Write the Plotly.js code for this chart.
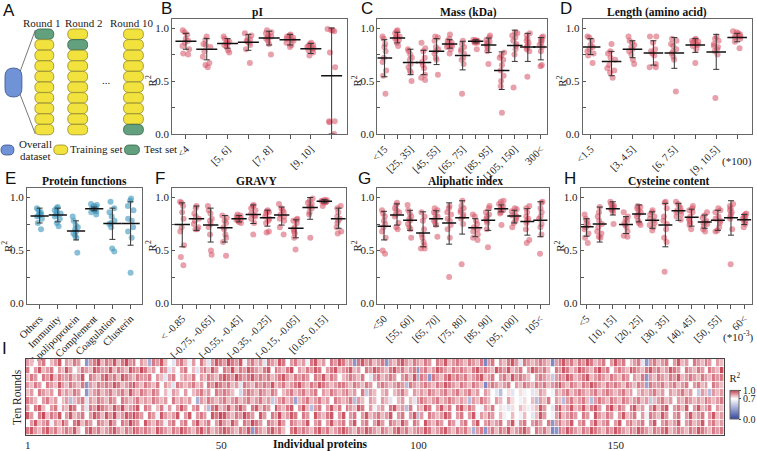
<!DOCTYPE html>
<html><head><meta charset="utf-8">
<script src="https://cdn.plot.ly/plotly-3.0.1.min.js"></script>
<style>html,body{margin:0;padding:0;background:#fff}#chart{width:757px;height:451px}</style>
</head><body><div id="chart"></div>
<script>
// ---------------- DATA ----------------
const pI_cats = ['<4','[4, 5]','[5, 6]','[6, 7]','[7, 8]','[8, 9]','[9, 10]','10<'];
const pI_points = [[0.98,0.96,0.94,0.90,0.88,0.86,0.83,0.80,0.76,0.75],[0.92,0.89,0.85,0.84,0.82,0.78,0.73,0.67,0.65,0.63],[0.92,0.90,0.88,0.87,0.86,0.85,0.84,0.82,0.79,0.77],[0.95,0.93,0.91,0.89,0.88,0.87,0.86,0.84,0.80,0.67],[0.98,0.96,0.95,0.93,0.92,0.91,0.90,0.88,0.85,0.75],[0.94,0.93,0.92,0.91,0.90,0.89,0.88,0.86,0.84,0.82],[0.86,0.85,0.84,0.83,0.82,0.81,0.80,0.79,0.77,0.74],[0.99,0.98,0.98,0.97,0.77,0.63,0.12,0.11,0.12,0.0]];
const pI_mean = [0.875,0.80,0.855,0.865,0.905,0.89,0.805,0.55];
const pI_hi = [0.95,0.90,0.90,0.94,0.97,0.94,0.855,1.0];
const pI_lo = [0.80,0.70,0.81,0.79,0.84,0.84,0.76,0.0];

const mass_cats = ['<15','[15, 25]','[25, 35]','[35, 45]','[45, 55]','[55, 65]','[65, 75]','[75, 85]','[85, 95]','[95, 105]','[105, 150]','[150, 300]','300<'];
const mass_points = [[0.92,0.90,0.85,0.82,0.78,0.72,0.68,0.60,0.55,0.38],[0.98,0.97,0.95,0.93,0.92,0.91,0.90,0.89,0.86,0.83],[0.80,0.78,0.75,0.72,0.70,0.66,0.63,0.60,0.58,0.50],[0.86,0.81,0.78,0.72,0.68,0.65,0.62,0.56,0.53,0.51],[0.92,0.91,0.88,0.82,0.80,0.78,0.76,0.72,0.70,0.56],[0.94,0.90,0.88,0.86,0.85,0.84,0.83,0.82,0.80,0.76],[0.88,0.85,0.82,0.80,0.78,0.76,0.72,0.70,0.66,0.38],[0.89,0.885,0.88,0.88,0.875,0.87,0.87,0.86,0.86,0.80],[0.93,0.91,0.89,0.87,0.86,0.85,0.83,0.81,0.78,0.66],[0.77,0.74,0.72,0.70,0.65,0.60,0.55,0.50,0.45,0.20],[0.96,0.95,0.93,0.91,0.88,0.85,0.83,0.80,0.75,0.44],[0.95,0.93,0.90,0.88,0.86,0.84,0.82,0.80,0.78,0.54],[0.92,0.91,0.89,0.88,0.86,0.84,0.82,0.78,0.65,0.64]];
const mass_mean = [0.717,0.905,0.675,0.675,0.78,0.85,0.74,0.875,0.84,0.60,0.835,0.82,0.82];
const mass_hi = [0.89,0.96,0.80,0.79,0.90,0.89,0.875,0.89,0.905,0.775,0.98,0.95,0.91];
const mass_lo = [0.54,0.86,0.56,0.56,0.655,0.81,0.605,0.86,0.77,0.42,0.685,0.685,0.70];

const len_cats = ['<1.5','[1.5, 3]','[3, 4.5]','[4.5, 6]','[6, 7.5]','[7.5, 9]','[9, 10.5]','10.5<'];
const len_points = [[0.92,0.91,0.88,0.84,0.82,0.80,0.78,0.76,0.74,0.67],[0.85,0.78,0.76,0.72,0.70,0.65,0.62,0.60,0.58,0.53],[0.92,0.88,0.86,0.84,0.82,0.80,0.78,0.75,0.70,0.66],[0.92,0.92,0.86,0.80,0.78,0.76,0.74,0.66,0.63,0.63],[0.90,0.88,0.85,0.83,0.80,0.78,0.76,0.73,0.70,0.40],[0.90,0.89,0.88,0.87,0.86,0.85,0.84,0.83,0.80,0.67],[0.92,0.90,0.88,0.85,0.83,0.82,0.80,0.78,0.75,0.34],[0.97,0.96,0.95,0.94,0.93,0.92,0.91,0.90,0.87,0.81]];
const len_mean = [0.82,0.685,0.80,0.765,0.765,0.84,0.775,0.91];
const len_hi = [0.90,0.78,0.88,0.88,0.91,0.90,0.94,0.95];
const len_lo = [0.75,0.55,0.72,0.65,0.62,0.77,0.61,0.87];

const func_cats = ['Others','Immunity','Apolipoprotein','Complement','Coagulation','Clusterin'];
const func_points = [[0.90,0.88,0.86,0.85,0.84,0.83,0.82,0.80,0.76,0.70],[0.91,0.90,0.88,0.86,0.85,0.84,0.82,0.80,0.76,0.73],[0.82,0.78,0.74,0.72,0.70,0.68,0.66,0.64,0.62,0.48],[0.94,0.93,0.92,0.91,0.90,0.89,0.88,0.87,0.86,0.84],[0.96,0.90,0.86,0.82,0.78,0.76,0.75,0.72,0.52,0.49],[0.99,0.97,0.92,0.88,0.80,0.78,0.72,0.68,0.62,0.29]];
const func_mean = [0.825,0.835,0.685,0.895,0.755,0.755];
const func_hi = [0.90,0.90,0.78,0.91,0.90,0.96];
const func_lo = [0.76,0.77,0.60,0.875,0.605,0.55];

const gravy_cats = ['< -0.85','[-0.85, -0.75]','[-0.75, -0.65]','[-0.65, -0.55]','[-0.55, -0.45]','[-0.45, -0.35]','[-0.35, -0.25]','[-0.25, -0.15]','[-0.15, -0.05]','[-0.05, 0.05]','[0.05, 0.15]','0.15<'];
const gravy_points = [[0.96,0.95,0.92,0.86,0.80,0.72,0.68,0.55,0.44,0.36],[0.92,0.90,0.85,0.82,0.80,0.78,0.75,0.72,0.70,0.70],[0.92,0.88,0.85,0.80,0.78,0.75,0.72,0.65,0.50,0.46],[0.83,0.81,0.78,0.76,0.72,0.70,0.65,0.62,0.58,0.45],[0.84,0.83,0.82,0.81,0.80,0.80,0.79,0.78,0.77,0.76],[0.93,0.92,0.90,0.88,0.85,0.83,0.82,0.80,0.76,0.65],[0.88,0.87,0.86,0.85,0.82,0.80,0.78,0.76,0.68,0.67],[0.94,0.90,0.88,0.86,0.84,0.82,0.80,0.78,0.72,0.65],[0.80,0.79,0.78,0.76,0.72,0.70,0.68,0.66,0.62,0.51],[0.99,0.97,0.95,0.94,0.92,0.91,0.90,0.86,0.84,0.62],[0.98,0.975,0.97,0.97,0.965,0.96,0.96,0.955,0.95,0.92],[0.92,0.90,0.86,0.82,0.80,0.78,0.76,0.72,0.68,0.66]];
const gravy_mean = [0.745,0.80,0.74,0.715,0.80,0.84,0.81,0.835,0.71,0.905,0.965,0.80];
const gravy_hi = [0.95,0.92,0.90,0.83,0.83,0.93,0.88,0.91,0.79,1.0,0.98,0.90];
const gravy_lo = [0.535,0.69,0.58,0.58,0.77,0.755,0.73,0.74,0.62,0.795,0.95,0.71];

const ali_cats = ['<50','[50, 55]','[55, 60]','[60, 65]','[65, 70]','[70, 75]','[75, 80]','[80, 85]','[85, 90]','[90, 95]','[95, 100]','[100, 105]','105<'];
const ali_points = [[0.88,0.85,0.82,0.78,0.75,0.72,0.68,0.62,0.50,0.47],[0.95,0.93,0.90,0.88,0.86,0.84,0.82,0.76,0.72,0.70],[0.93,0.88,0.85,0.82,0.80,0.78,0.75,0.72,0.70,0.62],[0.86,0.82,0.78,0.70,0.65,0.62,0.58,0.55,0.52,0.52],[0.90,0.88,0.86,0.84,0.82,0.80,0.78,0.76,0.74,0.63],[0.92,0.90,0.86,0.84,0.80,0.78,0.74,0.70,0.62,0.25],[0.97,0.92,0.90,0.88,0.86,0.84,0.82,0.80,0.75,0.37],[0.84,0.82,0.78,0.75,0.72,0.70,0.68,0.65,0.62,0.60],[0.92,0.90,0.86,0.84,0.82,0.80,0.78,0.76,0.70,0.53],[0.97,0.96,0.94,0.92,0.90,0.89,0.88,0.86,0.85,0.74],[0.90,0.89,0.87,0.85,0.83,0.82,0.80,0.78,0.76,0.72],[0.92,0.90,0.86,0.82,0.80,0.78,0.76,0.70,0.60,0.57],[0.96,0.95,0.90,0.86,0.82,0.80,0.75,0.72,0.65,0.47]];
const ali_mean = [0.73,0.835,0.785,0.665,0.80,0.76,0.81,0.715,0.785,0.895,0.825,0.775,0.785];
const ali_hi = [0.87,0.94,0.88,0.865,0.875,0.95,0.97,0.80,0.88,0.93,0.88,0.895,0.96];
const ali_lo = [0.60,0.74,0.69,0.535,0.73,0.56,0.655,0.63,0.69,0.865,0.76,0.645,0.63];

const cys_cats = ['<5','[5, 10]','[10, 15]','[15, 20]','[20, 25]','[25, 30]','[30, 35]','[35, 40]','[40, 45]','[45, 50]','[50, 55]','[55, 60]','60<'];
const cys_points = [[0.84,0.80,0.78,0.76,0.74,0.72,0.70,0.66,0.62,0.57],[0.91,0.86,0.82,0.78,0.75,0.72,0.68,0.66,0.63,0.62],[0.96,0.94,0.93,0.92,0.91,0.90,0.89,0.88,0.86,0.75],[0.86,0.82,0.80,0.78,0.76,0.74,0.72,0.68,0.64,0.63],[0.92,0.91,0.90,0.88,0.86,0.84,0.82,0.78,0.76,0.74],[0.88,0.86,0.84,0.82,0.80,0.78,0.76,0.74,0.72,0.69],[0.96,0.95,0.90,0.82,0.78,0.75,0.70,0.62,0.58,0.30],[0.96,0.94,0.92,0.90,0.88,0.87,0.86,0.84,0.82,0.79],[0.92,0.90,0.88,0.86,0.82,0.80,0.78,0.76,0.74,0.70],[0.86,0.83,0.81,0.78,0.77,0.76,0.75,0.73,0.70,0.68],[0.90,0.88,0.86,0.82,0.80,0.78,0.76,0.72,0.69,0.68],[0.94,0.92,0.90,0.88,0.86,0.84,0.82,0.80,0.70,0.37],[0.85,0.84,0.83,0.82,0.81,0.80,0.78,0.77,0.75,0.72]];
const cys_mean = [0.725,0.75,0.895,0.745,0.845,0.785,0.74,0.875,0.815,0.77,0.785,0.81,0.79];
const cys_hi = [0.80,0.91,0.96,0.82,0.93,0.865,0.945,0.945,0.89,0.835,0.88,0.97,0.84];
const cys_lo = [0.635,0.58,0.835,0.66,0.77,0.71,0.535,0.785,0.73,0.71,0.69,0.645,0.745];

// Heatmap: R2 of each protein (columns) in each of the ten rounds (rows, top to bottom)
const heatRound1 = [
.85,.8,.7,.85,.9,.7,.8,.85,.95,.7,
.85,.8,.9,.85,.7,.3,.85,.9,.97,.8,
.9,.85,.95,.8,.9,.97,.85,.9,.7,.85,
.8,.4,.9,.85,.95,.8,.7,.6,.85,.9,
.8,.65,.85,.7,.9,.8,.6,.85,.95,.9,
.85,.97,.9,.85,.95,.65,.85,.9,.8,.85,
.6,.9,.85,.8,.95,.9,.7,.85,.9,.8,
.85,.65,.9,.95,.8,.85,.7,.9,.85,.95,
.9,.8,.85,.3,.9,.95,.85,.9,.8,.85,
.9,.3,.85,.8,.9,.95,.85,.8,.9,.85,
.8,.9,.85,.7,.9,.85,.95,.8,.85,.9,
.85,.8,.9,.85,.8,.9,.25,.85,.9,.7,
.85,.8,.9,.95,.85,.6,.9,.85,.8,.85,
.9,.85,.8,.25,.85,.9,.95,.85,.9,.8,
.9,.85,.95,.9,.8,.85,.9,.7,.85,.95,
.85,.9,.7,.8,.85,.9,.6,.3,.85,.9,
.8,.85,.9,.7,.85,.95,.8,.85,.7,.9,
.85,.8,.9,.85,.7,.85,.8];
const heatRound2 = [
.9,.7,.85,.95,.8,.85,.9,.7,.85,.8,
.95,.85,.7,.8,.9,.85,.8,.95,.9,.85,
.85,.95,.8,.9,.85,.8,.95,.9,.85,.97,
.9,.8,.85,.7,.9,.85,.6,.8,.7,.85,
.9,.7,.8,.6,.85,.9,.8,.95,.85,.7,
.9,.85,.97,.8,.9,.85,.95,.9,.85,.8,
.9,.95,.7,.9,.85,.8,.9,.97,.7,.85,
.8,.9,.85,.95,.9,.7,.85,.9,.95,.8,
.85,.9,.95,.8,.85,.7,.9,.85,.95,.9,
.85,.8,.9,.95,.85,.9,.8,.85,.9,.3,
.85,.9,.8,.85,.95,.9,.85,.8,.9,.85,
.9,.85,.8,.9,.95,.85,.9,.85,.8,.95,
.9,.85,.95,.8,.85,.9,.7,.85,.95,.9,
.85,.9,.8,.7,.9,.85,.95,.9,.8,.85,
.95,.9,.85,.8,.9,.97,.85,.9,.7,.85,
.9,.85,.8,.95,.9,.85,.8,.9,.95,.85,
.9,.8,.85,.95,.9,.85,.7,.9,.85,.8,
.9,.85,.7,.9,.85,.8,.97];
const heatRound3 = [
.8,.9,.85,.7,.9,.85,.95,.8,.9,.85,
.85,.9,.8,.85,.95,.7,.9,.85,.8,.9,
.95,.85,.9,.8,.95,.9,.85,.8,.9,.85,
.85,.9,.7,.85,.8,.6,.85,.9,.7,.8,
.85,.8,.9,.7,.85,.8,.9,.85,.8,.9,
.95,.9,.85,.97,.9,.85,.9,.95,.85,.9,
.85,.9,.8,.85,.9,.95,.85,.8,.9,.85,
.9,.85,.7,.9,.85,.95,.8,.9,.85,.7,
.8,.85,.9,.85,.8,.9,.7,.6,.85,.9,
.8,.85,.9,.85,.7,.85,.9,.8,.95,.4,
.9,.85,.3,.9,.85,.8,.9,.95,.85,.9,
.85,.9,.8,.85,.9,.95,.8,.85,.9,.7,
.85,.9,.8,.95,.85,.9,.85,.8,.7,.85,
.9,.85,.8,.5,.85,.9,.85,.95,.9,.8,
.85,.9,.95,.8,.85,.9,.85,.8,.9,.85,
.8,.9,.85,.7,.85,.8,.9,.3,.85,.8,
.9,.85,.8,.9,.85,.95,.8,.85,.9,.85,
.8,.9,.85,.8,.9,.85,.9];
const heatRound4 = [
.85,.8,.9,.85,.7,.9,.85,.8,.95,.85,
.8,.9,.85,.8,.9,.3,.85,.8,.9,.85,
.9,.85,.95,.9,.8,.85,.9,.95,.85,.8,
.9,.85,.8,.9,.7,.85,.8,.6,.9,.85,
.8,.85,.9,.8,.85,.7,.9,.85,.95,.9,
.85,.9,.8,.85,.6,.9,.85,.8,.9,.85,
.9,.85,.95,.8,.85,.9,.8,.85,.9,.95,
.85,.8,.9,.85,.95,.9,.85,.8,.85,.9,
.9,.85,.8,.9,.85,.8,.9,.85,.7,.85,
.9,.85,.8,.85,.9,.85,.45,.9,.85,.8,
.85,.9,.85,.8,.9,.85,.95,.9,.85,.8,
.9,.85,.8,.9,.85,.8,.25,.85,.9,.85,
.8,.85,.9,.7,.85,.8,.9,.85,.8,.9,
.85,.9,.8,.85,.9,.95,.85,.8,.9,.85,
.8,.9,.85,.95,.9,.85,.8,.9,.85,.9,
.85,.8,.9,.85,.8,.9,.85,.35,.9,.85,
.85,.9,.8,.85,.9,.8,.85,.9,.7,.85,
.9,.8,.85,.7,.9,.85,.8];
const heatRound5 = [
.8,.85,.7,.9,.85,.8,.85,.7,.9,.8,
.85,.8,.9,.85,.7,.3,.8,.85,.9,.8,
.85,.9,.8,.85,.9,.8,.95,.85,.8,.9,
.85,.8,.9,.85,.7,.8,.65,.85,.8,.7,
.85,.7,.8,.85,.9,.8,.85,.7,.9,.85,
.9,.85,.8,.7,.55,.85,.9,.85,.8,.9,
.85,.8,.9,.85,.7,.8,.85,.9,.8,.85,
.9,.8,.85,.9,.7,.85,.8,.9,.85,.8,
.85,.9,.8,.85,.7,.9,.5,.85,.8,.7,
.8,.85,.7,.8,.85,.9,.8,.7,.85,.8,
.85,.8,.9,.85,.8,.85,.9,.8,.85,.9,
.8,.85,.9,.8,.85,.7,.85,.8,.7,.6,
.45,.7,.75,.6,.7,.75,.65,.7,.6,.75,
.85,.8,.7,.65,.85,.8,.85,.9,.8,.85,
.9,.85,.8,.85,.9,.8,.85,.9,.85,.8,
.85,.9,.8,.85,.7,.8,.85,.8,.85,.9,
.8,.85,.7,.85,.8,.85,.9,.8,.85,.7,
.5,.85,.8,.45,.85,.8,.85];
const heatRound6 = [
.9,.85,.8,.7,.85,.9,.8,.85,.7,.8,
.85,.45,.8,.85,.9,.6,.85,.8,.9,.85,
.8,.9,.85,.7,.9,.85,.8,.85,.9,.8,
.85,.8,.9,.85,.8,.85,.7,.9,.8,.85,
.8,.85,.7,.4,.85,.8,.9,.85,.8,.85,
.9,.8,.85,.9,.8,.85,.9,.8,.85,.9,
.8,.85,.5,.8,.85,.9,.8,.85,.35,.8,
.85,.9,.8,.85,.9,.8,.85,.7,.9,.85,
.8,.85,.9,.45,.85,.8,.7,.85,.8,.7,
.85,.8,.6,.7,.8,.85,.7,.8,.6,.85,
.9,.85,.8,.85,.9,.8,.85,.9,.85,.8,
.85,.8,.45,.85,.8,.9,.85,.8,.7,.85,
.8,.7,.85,.75,.7,.65,.75,.7,.8,.45,
.85,.8,.9,.7,.85,.8,.45,.85,.9,.8,
.85,.9,.8,.45,.85,.9,.85,.8,.9,.85,
.8,.9,.85,.8,.85,.9,.8,.85,.5,.8,
.85,.9,.8,.85,.7,.85,.8,.9,.85,.8,
.85,.8,.9,.85,.8,.85,.9];
const heatRound7 = [
.85,.7,.9,.95,.8,.7,.85,.9,.65,.85,
.8,.95,.9,.7,.85,.6,.9,.85,.97,.9,
.85,.8,.95,.85,.97,.8,.85,.9,.95,.7,
.9,.85,.7,.8,.9,.65,.85,.7,.85,.95,
.85,.7,.85,.9,.7,.8,.45,.9,.95,.8,
.85,.95,.8,.9,.95,.85,.7,.9,.95,.8,
.9,.85,.7,.95,.85,.8,.9,.95,.7,.85,
.95,.8,.45,.85,.9,.7,.85,.95,.8,.9,
.7,.9,.85,.8,.95,.9,.7,.85,.65,.8,
.85,.7,.9,.95,.8,.85,.45,.9,.7,.85,
.8,.95,.9,.7,.85,.95,.8,.9,.7,.9,
.95,.8,.9,.85,.7,.65,.85,.8,.9,.7,
.75,.65,.6,.75,.7,.8,.75,.65,.75,.8,
.95,.85,.7,.6,.9,.95,.8,.85,.95,.8,
.85,.95,.8,.9,.95,.85,.7,.9,.97,.8,
.9,.85,.7,.9,.95,.8,.85,.7,.85,.95,
.8,.9,.95,.7,.85,.9,.8,.95,.7,.85,
.95,.8,.85,.9,.7,.85,.8];
const heatRound8 = [
.95,.85,.7,.9,.97,.8,.9,.85,.95,.7,
.85,.95,.8,.85,.9,.7,.85,.95,.9,.8,
.95,.85,.97,.8,.85,.95,.9,.97,.9,.85,
.7,.9,.85,.65,.95,.85,.8,.85,.95,.7,
.85,.95,.7,.85,.9,.85,.7,.95,.9,.97,
.95,.85,.8,.9,.85,.97,.9,.85,.7,.95,
.85,.7,.9,.85,.97,.8,.85,.95,.9,.7,
.9,.85,.7,.95,.85,.8,.9,.95,.7,.85,
.95,.7,.85,.9,.7,.85,.95,.8,.85,.9,
.8,.85,.95,.7,.85,.9,.7,.85,.95,.45,
.85,.7,.9,.85,.8,.85,.95,.9,.7,.85,
.9,.7,.85,.95,.65,.85,.8,.9,.85,.7,
.8,.65,.7,.8,.7,.65,.8,.7,.6,.8,
.95,.85,.7,.65,.85,.95,.8,.85,.9,.85,
.7,.9,.85,.7,.95,.85,.8,.9,.85,.7,
.85,.95,.8,.85,.9,.7,.85,.65,.9,.85,
.8,.95,.85,.7,.85,.9,.7,.85,.95,.8,
.85,.9,.7,.85,.95,.8,.85];
const heatRound9 = [
.7,.85,.95,.8,.85,.9,.65,.85,.8,.95,
.85,.7,.9,.95,.8,.9,.85,.7,.9,.85,
.8,.95,.85,.7,.9,.85,.97,.9,.85,.7,
.95,.85,.8,.9,.85,.65,.85,.9,.7,.85,
.9,.7,.85,.95,.8,.85,.9,.7,.85,.95,
.85,.8,.95,.85,.7,.9,.85,.97,.9,.85,
.7,.9,.85,.8,.95,.85,.7,.9,.85,.8,
.85,.95,.7,.85,.9,.7,.85,.95,.8,.85,
.9,.7,.85,.95,.7,.85,.9,.7,.85,.95,
.85,.7,.9,.85,.8,.95,.85,.7,.9,.85,
.7,.95,.85,.8,.9,.85,.7,.9,.85,.65,
.85,.9,.7,.85,.95,.7,.85,.9,.8,.85,
.9,.7,.85,.95,.65,.85,.9,.7,.85,.9,
.85,.7,.9,.3,.85,.9,.8,.85,.95,.7,
.85,.9,.7,.85,.95,.8,.85,.9,.7,.85,
.95,.7,.85,.9,.8,.85,.9,.7,.85,.95,
.7,.85,.9,.8,.85,.95,.7,.85,.9,.8,
.85,.95,.7,.85,.9,.8,.85];
const heatRound10 = [
.9,.95,.85,.8,.9,.95,.85,.9,.8,.85,
.9,.85,.95,.8,.7,.9,.95,.85,.9,.8,
.85,.9,.95,.85,.8,.9,.85,.95,.9,.85,
.9,.85,.8,.95,.9,.85,.8,.9,.85,.95,
.9,.85,.8,.9,.95,.85,.9,.8,.85,.9,
.95,.9,.85,.8,.9,.85,.95,.3,.9,.85,
.8,.9,.95,.85,.9,.8,.7,.9,.95,.85,
.9,.85,.8,.9,.95,.85,.9,.8,.85,.9,
.95,.9,.85,.8,.9,.85,.95,.9,.85,.8,
.9,.85,.8,.9,.95,.85,.9,.8,.85,.9,
.85,.95,.9,.8,.85,.9,.95,.85,.8,.9,
.85,.9,.8,.4,.85,.9,.3,.85,.9,.8,
.9,.85,.95,.8,.85,.9,.95,.85,.7,.9,
.85,.9,.8,.25,.3,.9,.85,.95,.9,.85,
.8,.9,.85,.95,.9,.85,.8,.9,.85,.95,
.9,.85,.8,.9,.85,.95,.9,.85,.8,.9,
.85,.9,.95,.8,.85,.9,.85,.8,.9,.85,
.95,.9,.85,.8,.9,.85,.9];
const heatTicks = [1, 50, 100, 150];

// ---------------- LAYOUT HELPERS ----------------
const W = 757, H = 451;
const SERIF = 'Liberation Serif, Times New Roman, serif';
const SANS = 'Liberation Sans, Arial, sans-serif';
const PX = x => x / W, PY = y => 1 - y / H;
const RED = 'rgba(214,82,100,0.55)';
const BLUE = 'rgba(60,150,188,0.6)';

const traces = [];
const layout = {
  width: W, height: H, margin: {l: 0, r: 0, t: 0, b: 0},
  paper_bgcolor: '#fff', plot_bgcolor: '#fff', showlegend: false,
  font: {family: SERIF, size: 11, color: '#222'},
  annotations: [], shapes: []
};

function panel(n, cats, pts, mean, hi, lo, color, everyOther, xr, xpx, ypx, mSize) {
  const xa = n === 1 ? 'x' : 'x' + n, ya = n === 1 ? 'y' : 'y' + n;
  const idx = cats.map((_, i) => i);
  traces.push({
    type: 'box', xaxis: xa, yaxis: ya,
    x: idx.flatMap(i => pts[i].map(() => i)), y: pts.flat(),
    boxpoints: 'all', jitter: 0.85, pointpos: 0, whiskerwidth: 0,
    fillcolor: 'rgba(0,0,0,0)', line: {color: 'rgba(0,0,0,0)', width: 0},
    marker: {color: color, size: 6, line: {width: 0}}, hoverinfo: 'y'
  });
  traces.push({
    type: 'scatter', mode: 'markers', xaxis: xa, yaxis: ya, x: idx, y: mean,
    marker: {symbol: 'line-ew', size: mSize, color: '#111', line: {color: '#111', width: 1.5}},
    error_y: {type: 'data', symmetric: false, array: hi.map((h, i) => h - mean[i]),
      arrayminus: mean.map((m, i) => m - lo[i]), color: '#333', thickness: 1, width: 3}
  });
  const kx = n === 1 ? 'xaxis' : 'xaxis' + n, ky = n === 1 ? 'yaxis' : 'yaxis' + n;
  const step = everyOther ? 2 : 1;
  const lab = idx.filter(i => i % step === 0);
  const dom = [PX(xpx[0]), PX(xpx[1])];
  layout[kx] = {
    domain: dom, anchor: ya, type: 'linear', range: xr,
    tickmode: 'array', tickvals: lab, ticktext: lab.map(i => cats[i]),
    tickangle: -45, ticks: 'outside', ticklen: 4, tickcolor: '#555',
    showline: true, mirror: true, linecolor: '#666', linewidth: 1,
    showgrid: false, zeroline: false, tickfont: {family: SERIF, size: 10.5, color: '#222'}
  };
  if (everyOther) {
    // unlabelled ticks for the remaining bins
    const ox = 'x' + (n + 10);
    layout['xaxis' + (n + 10)] = {
      domain: dom, anchor: ya, overlaying: xa, type: 'linear', range: xr,
      tickmode: 'array', tickvals: idx.filter(i => i % 2 === 1), showticklabels: false,
      ticks: 'outside', ticklen: 4, tickcolor: '#555', showline: false, showgrid: false, zeroline: false
    };
    traces.push({type: 'scatter', mode: 'markers', x: [], y: [], xaxis: ox, yaxis: ya, hoverinfo: 'skip'});
  }
  layout[ky] = {
    domain: [PY(ypx[1]), PY(ypx[0])], anchor: xa, range: [0, 1.09],
    tickmode: 'array', tickvals: [0, 0.5, 1], ticktext: ['0.0', '0.5', '1.0'],
    ticks: 'inside', ticklen: 3, tickcolor: '#555',
    minor: {tickmode: 'array', tickvals: [0.25, 0.75], ticks: 'inside', ticklen: 3, tickcolor: '#555', showgrid: false},
    showline: true, mirror: true, linecolor: '#666', linewidth: 1,
    showgrid: false, zeroline: false, tickfont: {family: SERIF, size: 11, color: '#222'}
  };
}

const R1 = [18.5, 134], R2 = [188, 303.5];
panel(1, pI_cats, pI_points, pI_mean, pI_hi, pI_lo, RED, true, [-0.655, 7.72], [173, 348], R1, 15);
panel(2, mass_cats, mass_points, mass_mean, mass_hi, mass_lo, RED, true, [-0.535, 12.46], [379, 549], R1, 11);
panel(3, len_cats, len_points, len_mean, len_hi, len_lo, RED, true, [-0.38, 7.71], [585, 755], R1, 14);
panel(4, func_cats, func_points, func_mean, func_hi, func_lo, BLUE, false, [-0.7, 5.65], [27, 143], R2, 13);
panel(5, gravy_cats, gravy_points, gravy_mean, gravy_hi, gravy_lo, RED, true, [-0.7, 11.5], [173, 347], R2, 11);
panel(6, ali_cats, ali_points, ali_mean, ali_hi, ali_lo, RED, true, [-0.5, 12.65], [379, 551], R2, 10);
panel(7, cys_cats, cys_points, cys_mean, cys_hi, cys_lo, RED, true, [-0.45, 12.6], [583, 755], R2, 10);

// Heatmap
const heatRows = [heatRound1, heatRound2, heatRound3, heatRound4, heatRound5, heatRound6, heatRound7, heatRound8, heatRound9, heatRound10];
traces.push({
  type: 'heatmap', xaxis: 'x8', yaxis: 'y8',
  z: heatRows, x: heatRound1.map((_, i) => i + 1), y: heatRows.map((_, i) => i + 1),
  zmin: 0, zmax: 1, xgap: 0.6, ygap: 0.8,
  colorscale: [[0, 'rgb(52,70,160)'], [0.7, 'rgb(255,255,255)'], [1, 'rgb(195,52,70)']],
  colorbar: {x: PX(733), xanchor: 'left', y: PY(395.5), yanchor: 'middle', len: 47, lenmode: 'pixels',
    thickness: 9, outlinewidth: 1, outlinecolor: '#666', tickvals: [0, 0.7, 1], ticktext: ['0.0', '0.7', '1.0'],
    ticks: 'outside', ticklen: 2, tickfont: {family: SERIF, size: 10, color: '#222'},
    title: {text: 'R<sup>2</sup>', side: 'top', font: {family: SERIF, size: 10.5, color: '#222'}}, xpad: 0, ypad: 0}
});
layout.xaxis8 = {domain: [PX(26), PX(727)], anchor: 'y8', range: [0.5, heatRound1.length + 0.5],
  tickmode: 'array', tickvals: heatTicks, ticks: '', showline: true, mirror: true, linecolor: '#444', linewidth: 1,
  showgrid: false, zeroline: false, tickfont: {family: SERIF, size: 11, color: '#222'}};
layout.yaxis8 = {domain: [PY(435), PY(359)], anchor: 'x8', range: [10.5, 0.5],
  showticklabels: false, ticks: '', showline: true, mirror: true, linecolor: '#444', linewidth: 1,
  showgrid: false, zeroline: false};

// ---------------- TEXT ----------------
function ann(x, y, text, opts) {
  layout.annotations.push(Object.assign({xref: 'paper', yref: 'paper', x: PX(x), y: PY(y), text: text,
    showarrow: false, xanchor: 'center', yanchor: 'middle', font: {family: SERIF, size: 11, color: '#222'}}, opts || {}));
}
[['A', 9, 10], ['B', 167, 9], ['C', 368, 9], ['D', 568, 9], ['E', 11, 178], ['F', 161, 178], ['G', 366, 178], ['H', 572, 178], ['I', 5, 348]]
  .forEach(([t, x, y]) => ann(x, y, t, {font: {family: SANS, size: 17, color: '#111'}}));
[['pI', 259, 12], ['Mass (kDa)', 470, 12], ['Length (amino acid)', 660, 12], ['Protein functions', 85, 181],
 ['GRAVY', 258, 181], ['Aliphatic index', 467, 181], ['Cysteine content', 672, 181]]
  .forEach(([t, x, y]) => ann(x, y, '<b>' + t + '</b>', {font: {family: SERIF, size: 11.5, color: '#111'}}));
[[152, 81], [358, 81], [564, 81], [7, 246], [152, 246], [358, 246], [562, 246]]
  .forEach(([x, y]) => ann(x, y, 'R<sup>2</sup>', {textangle: -90}));
ann(740, 162, '(*100)');
ann(741, 336, '(*10<sup>-3</sup>)');
ann(17, 397, 'Ten Rounds', {textangle: -90, font: {family: SERIF, size: 11.5, color: '#222'}});
ann(322, 444, '<b>Individual proteins</b>', {font: {family: SERIF, size: 11.5, color: '#111'}});
ann(42, 23, 'Round 1'); ann(84, 23, 'Round 2'); ann(133, 23, 'Round 10');
ann(107, 80, '...');
ann(36, 144, 'Overall'); ann(36, 156, 'dataset');
ann(96, 149, 'Training set'); ann(161, 149, 'Test set');

// ---------------- PANEL A DIAGRAM ----------------
function capsule(x0, y0, x1, y1, fill, stroke) {
  const r = Math.min(x1 - x0, y1 - y0) / 2;
  const X = v => PX(v).toFixed(5), Y = v => PY(v).toFixed(5);
  const path = `M${X(x0 + r)},${Y(y0)} L${X(x1 - r)},${Y(y0)} Q${X(x1)},${Y(y0)} ${X(x1)},${Y(y0 + r)} ` +
    `L${X(x1)},${Y(y1 - r)} Q${X(x1)},${Y(y1)} ${X(x1 - r)},${Y(y1)} L${X(x0 + r)},${Y(y1)} ` +
    `Q${X(x0)},${Y(y1)} ${X(x0)},${Y(y1 - r)} L${X(x0)},${Y(y0 + r)} Q${X(x0)},${Y(y0)} ${X(x0 + r)},${Y(y0)} Z`;
  layout.shapes.push({type: 'path', xref: 'paper', yref: 'paper', path: path, fillcolor: fill, line: {color: stroke, width: 0.8}});
}
const CB = 'rgb(112,146,214)', CBs = 'rgb(55,80,140)';
const CY = 'rgb(242,226,62)', CYs = 'rgb(150,138,40)';
const CG = 'rgb(98,160,126)', CGs = 'rgb(50,100,72)';
function line(x0, y0, x1, y1) {
  layout.shapes.push({type: 'line', xref: 'paper', yref: 'paper', x0: PX(x0), y0: PY(y0), x1: PX(x1), y1: PY(y1), line: {color: '#555', width: 0.8}});
}
line(20, 72, 35.5, 30); line(20, 94, 35.5, 134);
capsule(5, 68, 22, 97, CB, CBs);
[[35, 54, 0], [68, 88, 1], [124, 144, 9]].forEach(([x0, x1, t]) => {
  for (let k = 0; k < 10; k++) {
    const y0 = 29 + k * 10.6;
    capsule(x0, y0, x1, y0 + 10.4, k === t ? CG : CY, k === t ? CGs : CYs);
  }
});
capsule(1, 145, 14, 155, CB, CBs);
capsule(54, 145, 68, 154.5, CY, CYs);
capsule(125, 145, 140, 154.5, CG, CGs);

Plotly.newPlot('chart', traces, layout, {displayModeBar: false, staticPlot: true});
</script></body></html>
